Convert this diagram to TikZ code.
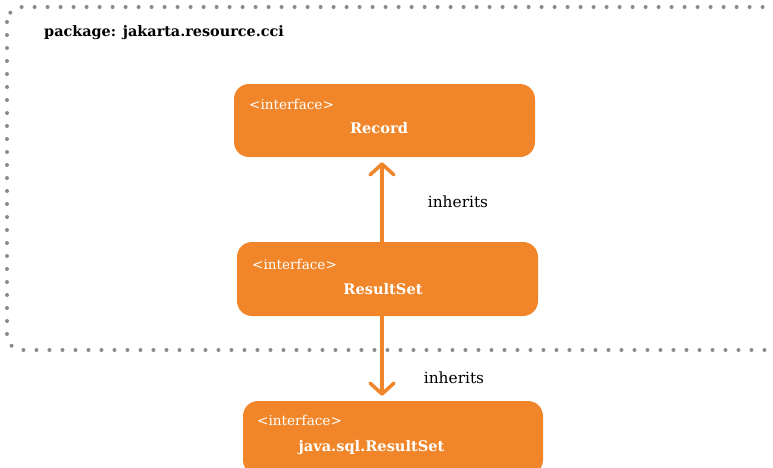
\documentclass[tikz,border=0pt]{standalone}
\usepackage{fontspec}
\setmainfont{DejaVu Serif}
\usepackage{tikz}
\usetikzlibrary{arrows.meta,positioning,calc}
\definecolor{umlorange}{RGB}{240,134,41}
\definecolor{dotgray}{RGB}{138,138,138}

\begin{document}
\begin{tikzpicture}[
    x=1pt, y=-1pt,
    iface/.style={rectangle, rounded corners=15pt, fill=umlorange, minimum width=301pt, minimum height=73pt, inner sep=0pt},
    stereo/.style={anchor=west, inner sep=0pt, text=white, font=\fontsize{13.6}{16}\selectfont},
    title/.style={inner sep=0pt, text=white, font=\fontsize{14.6}{17}\selectfont\bfseries},
    arrow/.style={-{Straight Barb[length=11pt, width=24pt, round]}, line width=3.5pt, umlorange},
    lbl/.style={inner sep=0pt, font=\fontsize{15.4}{18}\selectfont}
]
\useasboundingbox (0,0) rectangle (773,467);
\clip (0,0) rectangle (773,467);

% Package frame
\draw[dotgray, line width=4pt, line cap=round, dash pattern=on 0pt off 13pt, rounded corners=15pt] (7,7) rectangle (800,350);
\node[anchor=west, inner sep=0pt, font=\fontsize{14.4}{17}\selectfont\bfseries] (pkg) at (44,33) {package: jakarta.resource.cci};

% Interfaces
\node[iface] (record) at (384.5,120.5) {};
\node[stereo] (record-st) at (249,104) {<interface>};
\node[title] (record-name) at (379,128) {Record};

\node[iface, minimum height=74pt] (resultset) at (387.5,279) {};
\node[stereo] (resultset-st) at (252,264) {<interface>};
\node[title] (resultset-name) at (383,289) {ResultSet};

\node[iface, minimum width=300pt, minimum height=74pt] (sqlrs) at (393,438) {};
\node[stereo] (sqlrs-st) at (257,420) {<interface>};
\node[title] (sqlrs-name) at (371.5,448) {java.sql.ResultSet};

% Inheritance
\coordinate (stem) at (382,0);
\draw[arrow] (resultset.north -| stem) -- ([yshift=-5pt]record.south -| stem);
\draw[arrow] (resultset.south -| stem) -- ([yshift=5pt]sqlrs.north -| stem);
\node[lbl] (inh1) at (458,202) {inherits};
\node[lbl] (inh2) at (454,378) {inherits};

\end{tikzpicture}
\end{document}
